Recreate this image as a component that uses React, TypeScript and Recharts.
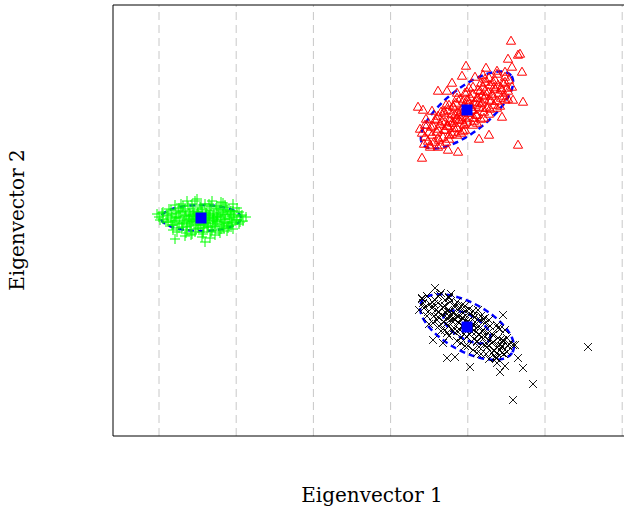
import { ScatterChart, Scatter, XAxis, YAxis, ReferenceLine } from "recharts";

// projections on the first two eigenvectors (units)
const xTicks = [4.6, 12.32, 20.04, 27.76, 35.48, 43.2, 50.92];
const xDomain = [0, 51.1];
const yDomain = [0, 43.1];

const greenPoints = [
  [4.4, 22.2], [4.7, 21.6], [5.0, 22.4], [5.3, 21.4], [5.5, 22.0], [5.8, 22.6], [5.9, 21.1], [6.1, 21.8],
  [6.3, 22.3], [6.4, 21.3], [6.6, 22.8], [6.7, 21.9], [6.9, 20.9], [7.0, 22.5], [7.1, 21.5], [7.3, 22.1],
  [7.4, 20.6], [7.5, 23.0], [7.6, 21.7], [7.7, 22.4], [7.8, 21.2], [7.9, 20.2], [8.0, 22.7], [8.1, 21.9],
  [8.2, 23.5], [8.3, 21.4], [8.4, 22.2], [8.5, 20.8], [8.6, 21.6], [8.7, 22.9], [8.8, 21.1], [8.9, 22.4],
  [9.0, 20.4], [9.1, 21.8], [9.2, 23.2], [9.3, 21.3], [9.4, 22.6], [9.5, 20.9], [9.6, 22.0], [9.7, 21.5],
  [9.8, 23.0], [9.9, 20.6], [10.0, 22.3], [10.1, 21.7], [10.2, 21.0], [10.3, 22.8], [10.4, 21.4], [10.5, 22.1],
  [10.6, 20.5], [10.7, 21.9], [10.8, 22.6], [10.9, 21.2], [11.0, 22.2], [11.1, 20.8], [11.2, 21.7], [11.3, 22.9],
  [11.4, 21.3], [11.5, 22.4], [11.6, 21.0], [11.7, 21.9], [11.8, 22.5], [11.9, 21.4], [12.0, 20.7], [12.1, 22.1],
  [12.3, 21.6], [12.4, 22.8], [12.6, 21.2], [12.8, 22.0], [13.0, 21.5], [13.3, 21.9], [6.0, 20.6], [7.2, 20.0],
  [9.2, 19.4], [9.7, 19.8], [8.4, 23.7], [7.6, 21.4], [8.0, 21.5], [8.3, 22.0], [8.7, 21.9], [9.0, 21.6],
  [9.3, 22.1], [9.6, 21.8], [10.0, 21.6], [8.9, 22.0], [9.4, 21.9], [8.2, 21.7], [7.8, 22.0], [10.4, 21.9],
  [9.1, 21.2], [8.5, 22.3], [6.8, 23.2], [11.0, 23.3], [6.2, 19.7], [12.0, 23.2],
  [5.6, 22.7], [6.5, 22.5], [7.2, 22.7], [8.1, 22.5], [8.9, 22.7], [9.7, 22.5], [10.6, 22.7], [11.4, 22.6], [12.0, 22.5],
  [4.9, 22.3], [5.9, 22.2], [6.8, 22.4], [7.6, 22.2], [8.5, 22.4], [9.3, 22.3], [10.1, 22.2], [11.0, 22.4], [11.8, 22.2], [12.6, 22.4],
  [4.6, 21.9], [5.4, 22.1], [6.3, 21.9], [7.2, 22.0], [8.0, 22.1], [8.8, 21.9], [9.6, 22.1], [10.4, 22.0], [11.2, 22.1], [12.1, 21.9], [12.9, 22.1],
  [5.0, 21.7], [5.8, 21.6], [6.6, 21.8], [7.4, 21.6], [8.4, 21.7], [9.2, 21.6], [10.0, 21.8], [10.8, 21.6], [11.6, 21.7], [12.4, 21.6],
  [5.5, 21.4], [6.2, 21.5], [7.0, 21.3], [7.9, 21.5], [8.7, 21.4], [9.5, 21.3], [10.3, 21.5], [11.1, 21.4], [11.9, 21.3], [12.7, 21.4],
  [6.0, 21.1], [6.9, 21.2], [7.7, 21.0], [8.5, 21.1], [9.4, 21.0], [10.2, 21.2], [11.0, 21.0], [11.8, 21.1],
  [6.6, 20.8], [7.4, 20.9], [8.3, 20.7], [9.1, 20.8], [10.0, 20.9], [10.8, 20.7], [11.5, 20.8],
  [6.4, 20.4], [7.3, 20.3], [8.2, 20.4], [9.0, 20.2], [9.8, 20.4], [10.7, 20.3], [11.4, 20.5],
  [6.2, 23.1], [7.0, 23.0], [7.9, 23.2], [8.8, 23.1], [9.6, 23.2], [10.4, 23.0], [11.2, 23.1],
  [7.8, 20.1], [8.9, 19.9], [10.2, 20.1], [7.4, 23.5], [9.9, 23.5], [10.8, 23.4],
];

const redPoints = [
  [31.2, 29.9], [30.7, 30.7], [31.7, 29.1], [31.8, 30.9], [32.5, 29.8], [31.3, 31.7], [32.5, 30.7], [33.3, 29.4],
  [32.4, 31.7], [33.1, 30.6], [31.9, 32.5], [33.2, 31.4], [33.9, 30.2], [33.1, 32.5], [33.7, 31.5], [34.1, 30.8],
  [33.9, 32.2], [35.0, 30.5], [33.3, 33.1], [34.6, 32.1], [34.0, 32.9], [35.1, 31.2], [34.8, 32.6], [35.3, 31.8],
  [34.7, 33.7], [36.1, 31.5], [35.1, 33.0], [35.6, 32.3], [35.4, 33.6], [36.3, 32.1], [36.2, 33.1], [35.4, 34.4],
  [37.1, 31.8], [36.4, 33.8], [37.0, 32.8], [36.5, 34.6], [37.1, 33.7], [37.7, 32.7], [37.2, 34.5], [37.8, 33.5],
  [37.9, 34.2], [37.2, 35.4], [38.7, 33.0], [38.1, 34.9], [38.8, 33.8], [38.8, 34.8], [38.2, 35.6], [39.5, 33.7],
  [39.0, 35.3], [39.5, 34.5], [39.2, 35.9], [39.9, 34.9], [35.0, 32.4], [35.8, 32.9], [34.3, 31.7], [36.6, 33.3],
  [33.5, 31.0], [36.9, 34.1], [34.1, 31.3], [35.6, 33.4], [36.0, 32.6], [34.9, 31.6],
  [39.8, 39.5], [40.7, 38.2], [40.5, 38.1], [39.5, 37.7], [35.3, 37.0], [37.3, 36.8], [40.9, 36.4], [34.9, 36.0],
  [32.5, 34.5], [33.4, 34.5], [34.4, 34.3], [30.5, 32.9], [31.0, 32.6], [41.0, 33.4], [40.0, 33.6], [31.2, 31.1],
  [37.6, 30.1], [36.6, 29.7], [40.5, 29.1], [31.7, 28.9], [34.5, 28.4], [33.5, 28.6], [30.9, 27.8], [32.5, 28.9],
  [36.2, 35.9], [38.4, 36.5], [39.9, 36.9], [33.9, 35.3], [37.0, 36.1], [38.9, 31.9],
  [31.1, 29.2], [30.9, 30.3], [31.5, 29.5], [31.6, 30.4], [31.4, 31.1], [32.1, 29.4], [31.9, 30.1], [32.0, 31.0],
  [32.2, 31.6], [32.6, 29.6], [32.4, 30.4], [32.7, 31.2], [32.5, 32.0], [33.0, 29.9], [33.2, 30.6], [32.9, 31.5],
  [33.1, 32.3], [33.6, 30.1], [33.4, 31.0], [33.7, 31.8], [33.5, 32.6], [34.1, 30.4], [33.9, 31.3], [34.2, 32.1],
  [34.0, 33.0], [34.4, 30.8], [34.6, 31.6], [34.5, 32.4], [34.3, 33.3], [35.1, 31.1], [34.9, 31.9], [35.2, 32.8],
  [35.0, 33.5], [35.4, 31.4], [35.6, 32.3], [35.5, 33.1], [35.7, 33.9], [36.1, 31.8], [35.9, 32.6], [36.2, 33.4],
  [36.0, 34.2], [36.4, 32.1], [36.6, 32.9], [36.5, 33.8], [36.7, 34.5], [37.1, 32.4], [36.9, 33.3], [37.2, 34.0],
  [37.0, 34.9], [37.4, 32.8], [37.6, 33.6], [37.5, 34.4], [37.7, 35.1], [38.1, 33.1], [37.9, 34.0], [38.2, 34.7],
  [38.0, 35.4], [38.4, 33.5], [38.6, 34.3], [38.5, 35.1], [39.1, 34.0], [38.9, 34.6], [39.2, 35.4], [39.4, 34.8],
  [39.6, 35.6],
  [32.8, 29.1], [32.8, 32.4], [33.6, 29.7], [33.6, 33.1], [34.4, 30.1], [34.4, 33.8], [35.2, 30.6], [35.2, 34.3],
  [36.0, 31.1], [36.0, 34.9], [36.8, 31.7], [36.8, 35.3], [37.6, 32.2], [37.6, 35.8], [38.4, 32.8], [38.4, 36.2],
  [39.2, 33.6], [39.2, 36.4], [34.8, 30.3], [36.4, 31.3], [35.6, 34.8], [37.2, 35.7],
];

const blackPoints = [
  [31.0, 13.3], [31.4, 14.0], [30.6, 12.6], [32.1, 13.2], [31.4, 12.0], [32.5, 14.0], [32.3, 12.6], [31.6, 11.2],
  [33.2, 13.0], [32.5, 11.9], [33.6, 13.9], [33.3, 12.3], [32.6, 11.0], [34.2, 12.9], [33.7, 11.9], [33.3, 11.2],
  [34.3, 12.1], [33.4, 10.3], [34.9, 13.1], [34.5, 11.4], [35.0, 12.3], [34.0, 10.5], [35.2, 11.5], [34.7, 10.6],
  [36.0, 12.0], [34.8, 9.8], [35.6, 11.3], [35.3, 10.6], [36.2, 11.4], [35.4, 9.9], [36.3, 10.4], [37.0, 11.7],
  [35.5, 9.0], [36.9, 10.5], [36.4, 9.5], [37.7, 11.0], [37.2, 9.9], [36.6, 8.9], [37.9, 10.2], [37.4, 9.2],
  [38.0, 9.4], [38.7, 10.7], [37.3, 8.2], [38.7, 9.6], [38.1, 8.5], [38.9, 9.0], [39.4, 9.8], [38.3, 7.8],
  [39.5, 9.0], [39.1, 8.2], [35.0, 11.0], [35.8, 10.8], [34.2, 11.6], [36.6, 10.1], [33.6, 12.4], [37.0, 10.6],
  [34.0, 11.8], [35.6, 10.2], [36.1, 11.0], [34.9, 11.8],
  [32.2, 14.8], [30.9, 13.8], [31.2, 12.9], [32.0, 9.6], [33.4, 7.8], [34.2, 7.9], [35.7, 6.9], [38.7, 6.4],
  [39.0, 12.1], [40.2, 9.1], [40.5, 7.8], [41.0, 6.8], [42.0, 5.2], [40.0, 3.6], [47.5, 8.9], [33.0, 9.3],
  [33.2, 10.6], [38.4, 7.8], [37.9, 8.3], [38.7, 8.6], [38.5, 10.8], [39.0, 9.6], [32.0, 11.3], [38.9, 8.3],
  [38.2, 7.9], [40.0, 9.1], [33.8, 14.2], [36.5, 12.6],
  [31.1, 12.8], [30.9, 13.7], [31.5, 12.4], [31.7, 13.2], [31.4, 14.0], [32.1, 12.0], [31.9, 12.8], [32.2, 13.6],
  [32.4, 11.6], [32.6, 12.4], [32.5, 13.3], [32.7, 14.1], [33.1, 11.4], [32.9, 12.1], [33.0, 12.9], [33.2, 13.6],
  [33.6, 11.0], [33.4, 11.8], [33.5, 12.6], [33.7, 13.4], [34.1, 10.8], [33.9, 11.5], [34.0, 12.3], [34.2, 13.1],
  [34.4, 10.5], [34.6, 11.3], [34.5, 12.0], [34.7, 12.8], [35.1, 10.2], [34.9, 11.0], [35.0, 11.8], [35.2, 12.5],
  [35.4, 9.9], [35.6, 10.7], [35.5, 11.5], [35.7, 12.2], [36.1, 9.7], [35.9, 10.4], [36.0, 11.2], [36.2, 11.9],
  [36.4, 9.4], [36.6, 10.2], [36.5, 10.9], [36.7, 11.6], [37.1, 9.1], [36.9, 9.9], [37.0, 10.6], [37.2, 11.3],
  [37.4, 8.9], [37.6, 9.6], [37.5, 10.3], [37.7, 11.0], [38.1, 8.6], [37.9, 9.3], [38.0, 10.1], [38.4, 8.3],
  [38.6, 9.0], [38.5, 9.8], [39.1, 8.2], [38.9, 8.9], [39.0, 9.5], [39.4, 8.4], [39.6, 9.2],
  [32.8, 10.5], [32.8, 14.3], [33.6, 10.0], [33.6, 13.8], [34.4, 9.5], [34.4, 13.4], [35.2, 9.0], [35.2, 13.0],
  [36.0, 8.6], [36.0, 12.5], [36.8, 8.2], [36.8, 12.0], [37.6, 7.7], [37.6, 11.6], [38.4, 7.3], [38.4, 11.1],
  [39.2, 7.0], [39.2, 10.6], [34.8, 9.3], [36.4, 8.3], [35.6, 12.7], [37.2, 11.8],
];

const centroids = [
  [8.8, 21.8],
  [35.4, 32.6],
  [35.4, 10.9],
];

// confidence ellipses: centre x, centre y, semi-major, semi-minor, angle (deg)
const ellipses = [
  [8.8, 21.8, 4.0, 1.3, 0],
  [35.4, 32.6, 5.6, 2.2, 38],
  [35.4, 10.9, 5.2, 2.4, -29],
  [35.4, 10.9, 2.6, 1.2, -29],
];

const toXY = (pts: number[][]) => pts.map(([x, y]) => ({ x, y }));

const ellipseOutline = ([cx, cy, a, b, deg]: number[]) => {
  const r = (deg * Math.PI) / 180;
  const out = [];
  for (let i = 0; i <= 72; i++) {
    const t = (i / 72) * 2 * Math.PI;
    const ex = a * Math.cos(t);
    const ey = b * Math.sin(t);
    out.push({ x: cx + ex * Math.cos(r) - ey * Math.sin(r), y: cy + ex * Math.sin(r) + ey * Math.cos(r) });
  }
  return out;
};

const Plus = ({ cx, cy }: any) => (
  <g stroke="#00ff00" strokeWidth={1}>
    <line x1={cx - 5} y1={cy} x2={cx + 5} y2={cy} />
    <line x1={cx} y1={cy - 5} x2={cx} y2={cy + 5} />
  </g>
);

const Triangle = ({ cx, cy }: any) => (
  <polygon
    points={`${cx},${cy - 4.8} ${cx - 4.6},${cy + 3.2} ${cx + 4.6},${cy + 3.2}`}
    fill="none"
    stroke="#ff0000"
    strokeWidth={1}
  />
);

const Cross = ({ cx, cy }: any) => (
  <g stroke="#000" strokeWidth={0.9}>
    <line x1={cx - 4} y1={cy - 4} x2={cx + 4} y2={cy + 4} />
    <line x1={cx - 4} y1={cy + 4} x2={cx + 4} y2={cy - 4} />
  </g>
);

const Square = ({ cx, cy }: any) => <rect x={cx - 5.5} y={cy - 5.5} width={11} height={11} fill="#0000ff" />;

const Nothing = () => <g />;

export default function App() {
  return (
    <div style={{ position: "absolute", left: 0, top: 0, width: 624, height: 507 }}>
      <ScatterChart width={624} height={507} margin={{ top: 5, right: 0, left: 113, bottom: 71 }}>
        <XAxis
          type="number"
          dataKey="x"
          domain={xDomain}
          ticks={xTicks}
          tick={false}
          tickLine={false}
          axisLine={false}
          height={0}
          allowDataOverflow
        />
        <YAxis
          type="number"
          dataKey="y"
          domain={yDomain}
          tick={false}
          tickLine={false}
          axisLine={false}
          width={0}
          allowDataOverflow
        />
        {xTicks.map((t) => (
          <ReferenceLine key={t} x={t} stroke="#c8c8c8" strokeDasharray="8 5" />
        ))}
        <ReferenceLine x={xDomain[0]} stroke="#000" />
        <ReferenceLine y={yDomain[0]} stroke="#000" />
        <ReferenceLine y={yDomain[1]} stroke="#000" />
        {ellipses.map((e, i) => (
          <Scatter
            key={i}
            data={ellipseOutline(e)}
            line={{ stroke: "#0000ff", strokeWidth: 2.5, strokeDasharray: "6 4" }}
            shape={Nothing}
            isAnimationActive={false}
          />
        ))}
        <Scatter data={toXY(greenPoints)} shape={Plus} isAnimationActive={false} />
        <Scatter data={toXY(redPoints)} shape={Triangle} isAnimationActive={false} />
        <Scatter data={toXY(blackPoints)} shape={Cross} isAnimationActive={false} />
        <Scatter data={toXY(centroids)} shape={Square} isAnimationActive={false} />
      </ScatterChart>
      <svg
        width={624}
        height={507}
        style={{ position: "absolute", left: 0, top: 0, pointerEvents: "none" }}
        fontFamily="DejaVu Serif"
        fontSize={20}
      >
        <text x={372} y={502} textAnchor="middle">Eigenvector 1</text>
        <text transform="translate(24,220) rotate(-90)" textAnchor="middle">Eigenvector 2</text>
      </svg>
    </div>
  );
}
